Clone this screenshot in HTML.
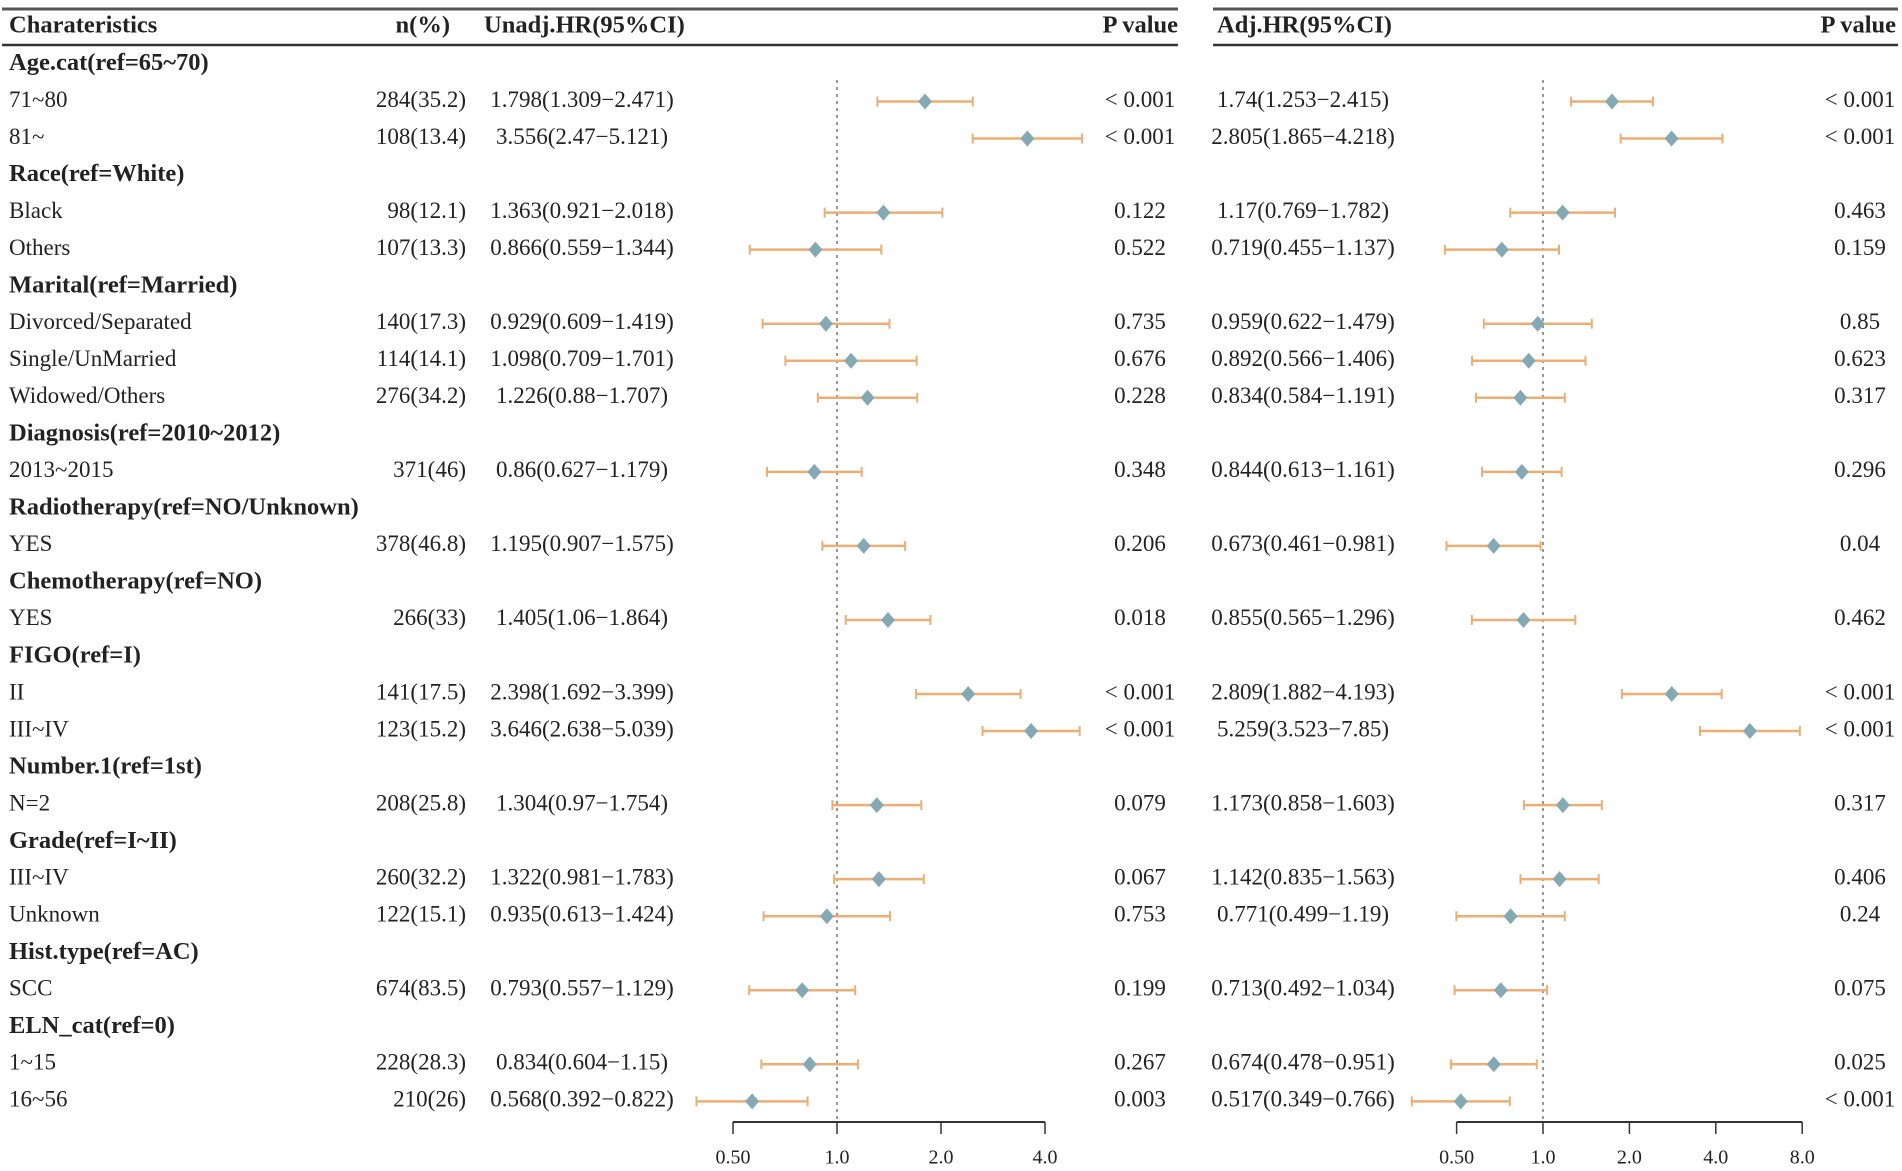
<!DOCTYPE html>
<html><head><meta charset="utf-8"><style>
body{margin:0;background:#fff;}
svg{display:block;font-family:"Liberation Serif",serif;}
</style></head><body>
<svg id="c" width="1902" height="1171" viewBox="0 0 1902 1171"></svg>
<script>
const labels=["Age.cat(ref=65~70)","71~80","81~","Race(ref=White)","Black","Others","Marital(ref=Married)","Divorced/Separated","Single/UnMarried","Widowed/Others","Diagnosis(ref=2010~2012)","2013~2015","Radiotherapy(ref=NO/Unknown)","YES","Chemotherapy(ref=NO)","YES","FIGO(ref=I)","II","III~IV","Number.1(ref=1st)","N=2","Grade(ref=I~II)","III~IV","Unknown","Hist.type(ref=AC)","SCC","ELN_cat(ref=0)","1~15","16~56"];
const nPct=["","284(35.2)","108(13.4)","","98(12.1)","107(13.3)","","140(17.3)","114(14.1)","276(34.2)","","371(46)","","378(46.8)","","266(33)","","141(17.5)","123(15.2)","","208(25.8)","","260(32.2)","122(15.1)","","674(83.5)","","228(28.3)","210(26)"];
const uHR=[null,1.798,3.556,null,1.363,0.866,null,0.929,1.098,1.226,null,0.86,null,1.195,null,1.405,null,2.398,3.646,null,1.304,null,1.322,0.935,null,0.793,null,0.834,0.568];
const uLo=[null,1.309,2.47,null,0.921,0.559,null,0.609,0.709,0.88,null,0.627,null,0.907,null,1.06,null,1.692,2.638,null,0.97,null,0.981,0.613,null,0.557,null,0.604,0.392];
const uHi=[null,2.471,5.121,null,2.018,1.344,null,1.419,1.701,1.707,null,1.179,null,1.575,null,1.864,null,3.399,5.039,null,1.754,null,1.783,1.424,null,1.129,null,1.15,0.822];
const uP=["","< 0.001","< 0.001","","0.122","0.522","","0.735","0.676","0.228","","0.348","","0.206","","0.018","","< 0.001","< 0.001","","0.079","","0.067","0.753","","0.199","","0.267","0.003"];
const aHR=[null,1.74,2.805,null,1.17,0.719,null,0.959,0.892,0.834,null,0.844,null,0.673,null,0.855,null,2.809,5.259,null,1.173,null,1.142,0.771,null,0.713,null,0.674,0.517];
const aLo=[null,1.253,1.865,null,0.769,0.455,null,0.622,0.566,0.584,null,0.613,null,0.461,null,0.565,null,1.882,3.523,null,0.858,null,0.835,0.499,null,0.492,null,0.478,0.349];
const aHi=[null,2.415,4.218,null,1.782,1.137,null,1.479,1.406,1.191,null,1.161,null,0.981,null,1.296,null,4.193,7.85,null,1.603,null,1.563,1.19,null,1.034,null,0.951,0.766];
const aP=["","< 0.001","< 0.001","","0.463","0.159","","0.85","0.623","0.317","","0.296","","0.04","","0.462","","< 0.001","< 0.001","","0.317","","0.406","0.24","","0.075","","0.025","< 0.001"];
const uTicks=[0.5,1,2,4], uTickLab=["0.50","1.0","2.0","4.0"];
const aTicks=[0.5,1,2,4,8], aTickLab=["0.50","1.0","2.0","4.0","8.0"];

const svg=document.getElementById('c');
const NS="http://www.w3.org/2000/svg";
function mk(t,a,p){const e=document.createElementNS(NS,t);for(const k in a)e.setAttribute(k,a[k]);(p||svg).appendChild(e);return e;}
function txt(x,y,s,anchor,bold,size){const e=mk('text',{x:x,y:y,'text-anchor':anchor||'start','font-size':size||(bold?24.5:23),'font-weight':bold?'bold':'normal',fill:'#222','dominant-baseline':'middle'});e.textContent=s;return e;}
const xU=v=>837+Math.log2(v)*104;
const xA=v=>1543+Math.log2(v)*86.4;
const rowY=i=>64.5+i*37.03;

let e;
e=mk('line',{x1:2,x2:1178,y1:9,y2:9,stroke:'#555','stroke-width':3});

e=mk('line',{x1:2,x2:1178,y1:45,y2:45,stroke:'#333','stroke-width':2.5});

e=mk('line',{x1:1213,x2:1898,y1:9,y2:9,stroke:'#555','stroke-width':3});

e=mk('line',{x1:1213,x2:1898,y1:45,y2:45,stroke:'#333','stroke-width':2.5});


e=txt(9,27,"Charateristics",'start',true);
e=txt(450,27,"n(%)",'end',true);
e=txt(484,27,"Unadj.HR(95%CI)",'start',true);
e=txt(1178,27,"P value",'end',true);
e=txt(1217,27,"Adj.HR(95%CI)",'start',true);
e=txt(1896,27,"P value",'end',true);

e=mk('line',{x1:xU(1),x2:xU(1),y1:80,y2:1120,stroke:'#777','stroke-width':1.5,'stroke-dasharray':'3,4'});

e=mk('line',{x1:xA(1),x2:xA(1),y1:80,y2:1120,stroke:'#777','stroke-width':1.5,'stroke-dasharray':'3,4'});


function fmt(h,l,u){return h+"("+l+"\u2212"+u+")";}
function mark(xf,h,l,u,y,nm){
  const g=mk('g',{});
  
  
  mk('line',{x1:xf(l),x2:xf(u),y1:y,y2:y,stroke:'#EBAE74','stroke-width':2.5},g);
  mk('line',{x1:xf(l),x2:xf(l),y1:y-5,y2:y+5,stroke:'#EBAE74','stroke-width':2},g);
  mk('line',{x1:xf(u),x2:xf(u),y1:y-5,y2:y+5,stroke:'#EBAE74','stroke-width':2},g);
  const x=xf(h);
  mk('polygon',{points:`${x},${y-8} ${x+7},${y} ${x},${y+8} ${x-7},${y}`,fill:'#84A9B3'},g);
}
labels.forEach((lab,i)=>{
  const y=rowY(i);
  const isHead=uHR[i]===null;
  e=txt(9,y,lab,'start',isHead);
  
  
  if(isHead)return;
  e=txt(466,y,nPct[i],'end');
  
  e=txt(582,y,fmt(uHR[i],uLo[i],uHi[i]),'middle');
  
  e=txt(1140,y,uP[i],'middle');
  
  e=txt(1303,y,fmt(aHR[i],aLo[i],aHi[i]),'middle');
  
  e=txt(1860,y,aP[i],'middle');
  
  mark(xU,uHR[i],uLo[i],uHi[i],y,'unadj-ci-mark');
  mark(xA,aHR[i],aLo[i],aHi[i],y,'adj-ci-mark');
});

function axis(xf,ticks,labs,nm){
  const g=mk('g',{});
  
  
  const y=1122;
  mk('line',{x1:xf(ticks[0]),x2:xf(ticks[ticks.length-1]),y1:y,y2:y,stroke:'#333','stroke-width':2},g);
  ticks.forEach((t,k)=>{
    mk('line',{x1:xf(t),x2:xf(t),y1:y,y2:y+12,stroke:'#333','stroke-width':1.5},g);
    const tt=mk('text',{x:xf(t),y:1159,'text-anchor':'middle','font-size':20,fill:'#222','dominant-baseline':'middle'},g);
    tt.textContent=labs[k];
  });
}
axis(xU,uTicks,uTickLab,'x-axis-unadj');
axis(xA,aTicks,aTickLab,'x-axis-adj');
</script>
</body></html>
